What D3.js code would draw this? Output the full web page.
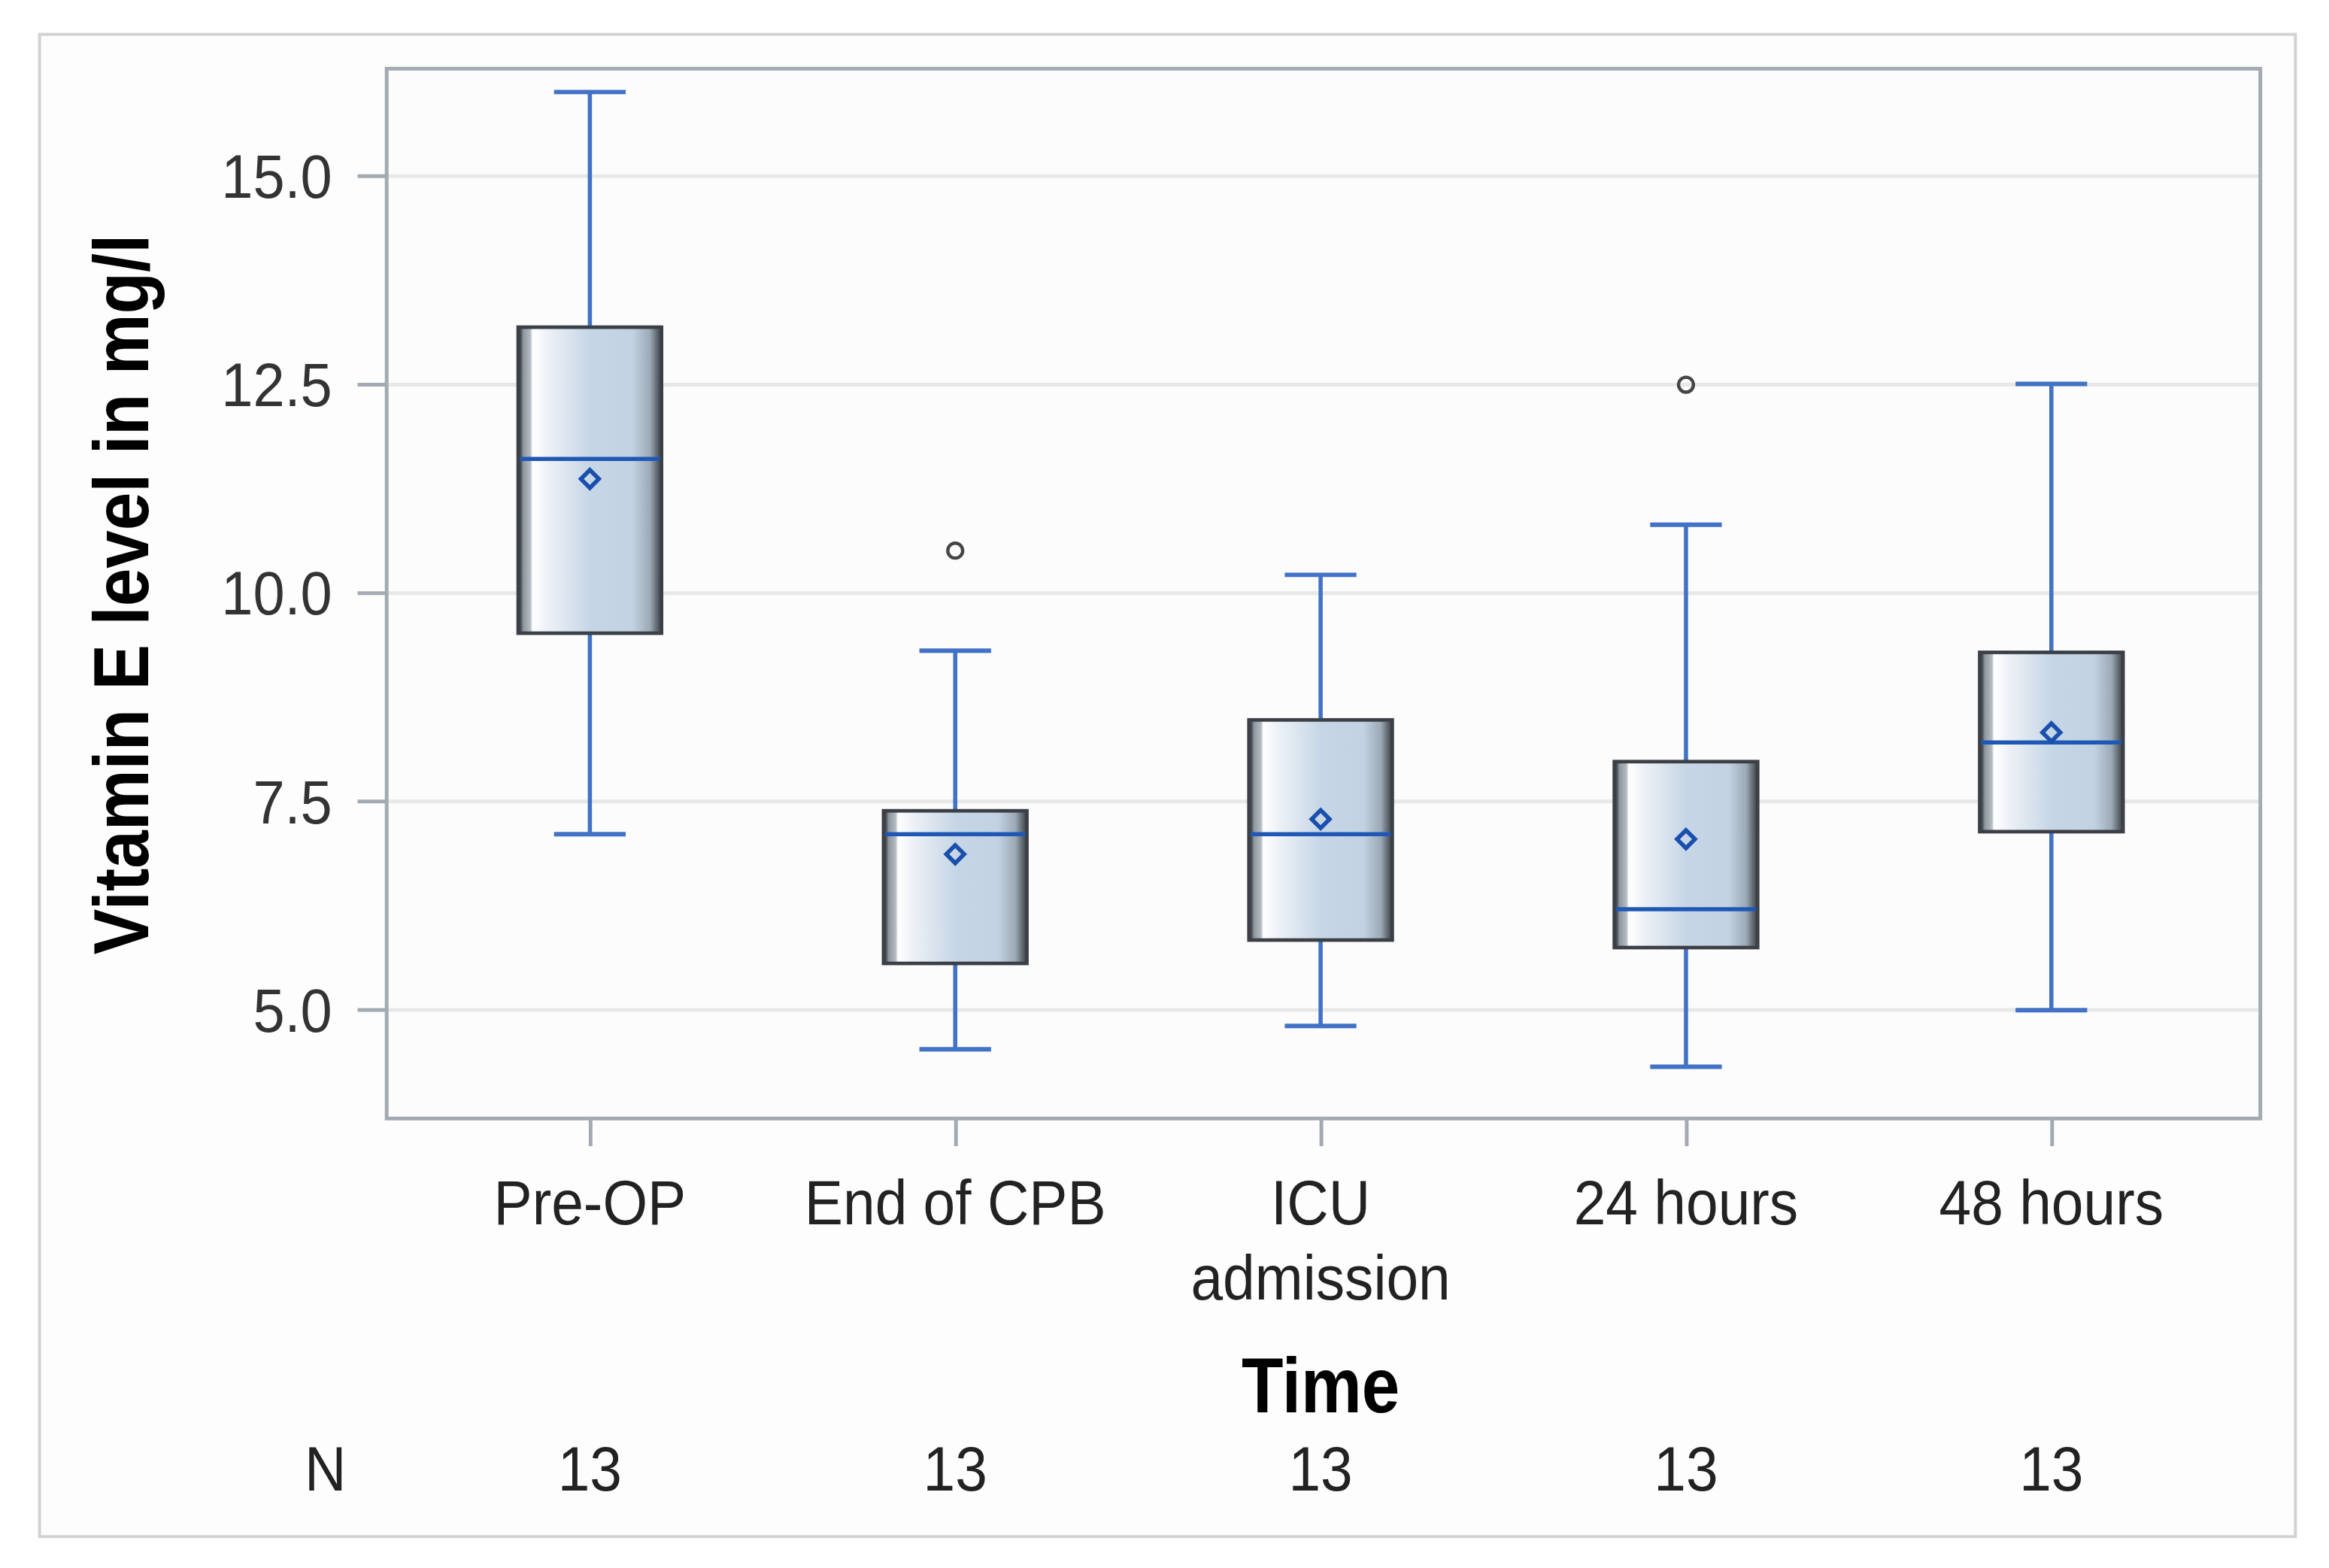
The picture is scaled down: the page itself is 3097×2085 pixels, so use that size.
<!DOCTYPE html>
<html>
<head>
<meta charset="utf-8">
<script src="https://cdn.jsdelivr.net/npm/d3@7"></script>
<style>
  html, body { margin: 0; padding: 0; background: #ffffff; }
  svg { display: block; }
</style>
</head>
<body>
<div id="chart"></div>
<script>
// data
var categories = ["Pre-OP", "End of CPB", "ICU admission", "24 hours", "48 hours"];
var catLines = [["Pre-OP"], ["End of CPB"], ["ICU", "admission"], ["24 hours"], ["48 hours"]];
var whiskerLow = [7.10, 4.52, 4.80, 4.31, 4.99];
var q1 = [9.51, 5.55, 5.83, 5.74, 7.13];
var median = [11.60, 7.10, 7.10, 6.20, 8.20];
var q3 = [13.18, 7.38, 8.47, 7.97, 9.28];
var whiskerHigh = [16.00, 9.30, 10.21, 10.81, 12.50];
var mean = [11.36, 6.86, 7.28, 7.04, 8.32];
var outliers = [[], [10.50], [], [12.49], []];
var counts = [13, 13, 13, 13, 13];
var yTicks = [5.0, 7.5, 10.0, 12.5, 15.0];

var W = 1560, H = 1050;
var plot = { left: 259, right: 1514, top: 46, bottom: 749 };
var boxW = 96, capW = 48;
var font = "'Liberation Sans', Arial, sans-serif";

var svg = d3.select("#chart").append("svg")
    .attr("width", 3097)
    .attr("height", 2085)
    .attr("viewBox", "0 0 " + W + " " + H)
    .attr("preserveAspectRatio", "none");

var grad = svg.append("defs").append("linearGradient")
    .attr("id", "boxfill")
    .attr("x1", "0%").attr("x2", "100%").attr("y1", "0%").attr("y2", "0%");
[[0, "#3a3e44"], [0.02, "#4f545a"], [0.035, "#8e959d"], [0.085, "#b4bcc4"], [0.1, "#ffffff"],
 [0.2, "#eef2f7"], [0.5, "#c6d6e6"], [0.8, "#c2d2e2"], [0.92, "#9ca9b6"], [0.97, "#5e666e"], [1, "#3a3e44"]]
  .forEach(function(s) {
    grad.append("stop").attr("offset", s[0]).attr("stop-color", s[1]);
  });

// outer frame
svg.append("rect")
    .attr("x", 26.5).attr("y", 23)
    .attr("width", 1511).attr("height", 1006)
    .style("fill", "#fdfdfd")
    .style("stroke", "#d2d2d2")
    .style("stroke-width", 2);

// plot background
svg.append("rect")
    .attr("x", plot.left).attr("y", plot.top)
    .attr("width", plot.right - plot.left).attr("height", plot.bottom - plot.top)
    .style("fill", "#fcfcfc");

var x = d3.scalePoint()
    .domain(categories)
    .range([plot.left, plot.right])
    .padding(0.564)
    .align(0.493);

var y = d3.scaleLinear()
    .domain([3.69, 16.28])
    .range([plot.bottom, plot.top]);

// grid lines
svg.append("g")
    .attr("transform", "translate(" + plot.left + ",0)")
    .call(d3.axisLeft(y).tickValues(yTicks).tickSize(-(plot.right - plot.left)).tickFormat(""))
    .call(function(g) { g.select(".domain").remove(); })
    .selectAll("line")
    .style("stroke", "#e8e8e8")
    .style("stroke-width", 2.5);

// y axis
var yAxis = svg.append("g")
    .attr("transform", "translate(" + plot.left + ",0)")
    .call(d3.axisLeft(y).tickValues(yTicks).tickSize(19.5).tickPadding(17).tickFormat(d3.format(".1f")));
yAxis.select(".domain").remove();
yAxis.selectAll("line").style("stroke", "#a3aab1").style("stroke-width", 2.5);
yAxis.selectAll("text")
    .attr("class", "sq")
    .attr("dy", "0.35em")
    .style("font-family", font)
    .style("font-size", "41.5px")
    .style("fill", "#333333");

// x axis
var xAxis = svg.append("g")
    .attr("transform", "translate(0," + plot.bottom + ")")
    .call(d3.axisBottom(x).tickSize(18.5).tickFormat(""));
xAxis.select(".domain").remove();
xAxis.selectAll("line").style("stroke", "#a3aab1").style("stroke-width", 2.5);

categories.forEach(function(c, i) {
  catLines[i].forEach(function(line, j) {
    svg.append("text")
        .attr("class", "sq")
        .attr("x", x(c))
        .attr("y", 820 + j * 50)
        .attr("text-anchor", "middle")
        .style("font-family", font)
        .style("font-size", "42px")
        .style("fill", "#222222")
        .text(line);
  });
});

// plot frame
svg.append("rect")
    .attr("x", plot.left).attr("y", plot.top)
    .attr("width", plot.right - plot.left).attr("height", plot.bottom - plot.top)
    .style("fill", "none")
    .style("stroke", "#a3aab1")
    .style("stroke-width", 2.5);

// boxes
var idx = d3.range(categories.length);
var g = svg.append("g");

g.selectAll(".whisker").data(idx).enter().append("line")
    .attr("x1", function(i) { return x(categories[i]); })
    .attr("x2", function(i) { return x(categories[i]); })
    .attr("y1", function(i) { return y(whiskerLow[i]); })
    .attr("y2", function(i) { return y(whiskerHigh[i]); })
    .style("stroke", "#4272c6")
    .style("stroke-width", 2.8);

[whiskerLow, whiskerHigh].forEach(function(arr) {
  g.selectAll(null).data(idx).enter().append("line")
      .attr("x1", function(i) { return x(categories[i]) - capW / 2; })
      .attr("x2", function(i) { return x(categories[i]) + capW / 2; })
      .attr("y1", function(i) { return y(arr[i]); })
      .attr("y2", function(i) { return y(arr[i]); })
      .style("stroke", "#4272c6")
      .style("stroke-width", 3);
});

g.selectAll(".box").data(idx).enter().append("rect")
    .attr("x", function(i) { return x(categories[i]) - boxW / 2; })
    .attr("y", function(i) { return y(q3[i]); })
    .attr("width", boxW)
    .attr("height", function(i) { return y(q1[i]) - y(q3[i]); })
    .style("fill", "url(#boxfill)")
    .style("stroke", "#3c4046")
    .style("stroke-width", 2.4);

g.selectAll(".median").data(idx).enter().append("line")
    .attr("x1", function(i) { return x(categories[i]) - boxW / 2 + 1; })
    .attr("x2", function(i) { return x(categories[i]) + boxW / 2 - 1; })
    .attr("y1", function(i) { return y(median[i]); })
    .attr("y2", function(i) { return y(median[i]); })
    .style("stroke", "#1f58b4")
    .style("stroke-width", 2.8);

g.selectAll(".mean").data(idx).enter().append("path")
    .attr("transform", function(i) { return "translate(" + x(categories[i]) + "," + y(mean[i]) + ")"; })
    .attr("d", "M0,-6L6,0L0,6L-6,0Z")
    .style("fill", "none")
    .style("stroke", "#1a4fae")
    .style("stroke-width", 2.8);

idx.forEach(function(i) {
  g.selectAll(null).data(outliers[i]).enter().append("circle")
      .attr("cx", x(categories[i]))
      .attr("cy", function(v) { return y(v); })
      .attr("r", 5)
      .style("fill", "none")
      .style("stroke", "#454545")
      .style("stroke-width", 2.2);
});

// titles
svg.append("text")
    .attr("class", "sqb")
    .attr("transform", "translate(99," + ((plot.top + plot.bottom) / 2 + 0.5) + ") rotate(-90)")
    .attr("text-anchor", "middle")
    .style("font-family", font)
    .style("font-size", "52px")
    .style("font-weight", "bold")
    .style("fill", "#000000")
    .text("Vitamin E level in mg/l");

svg.append("text")
    .attr("class", "sqb")
    .attr("x", x("ICU admission"))
    .attr("y", 946)
    .attr("text-anchor", "middle")
    .style("font-family", font)
    .style("font-size", "52px")
    .style("font-weight", "bold")
    .style("fill", "#000000")
    .text("Time");

// N row
svg.append("text")
    .attr("class", "sq")
    .attr("x", 218)
    .attr("y", 998)
    .attr("text-anchor", "middle")
    .style("font-family", font)
    .style("font-size", "42px")
    .style("fill", "#222222")
    .text("N");

svg.selectAll(".count").data(idx).enter().append("text")
    .attr("class", "sq")
    .attr("x", function(i) { return x(categories[i]); })
    .attr("y", 998)
    .attr("text-anchor", "middle")
    .style("font-family", font)
    .style("font-size", "42px")
    .style("fill", "#222222")
    .text(function(i) { return counts[i]; });

// the original font is narrower than Liberation Sans
function squeeze(sel, k) {
  sel.each(function() {
    var len = this.getComputedTextLength();
    d3.select(this).attr("textLength", len * k).attr("lengthAdjust", "spacingAndGlyphs");
  });
}
squeeze(svg.selectAll("text.sq"), 0.92);
squeeze(svg.selectAll("text.sqb"), 0.88);
</script>
</body>
</html>
